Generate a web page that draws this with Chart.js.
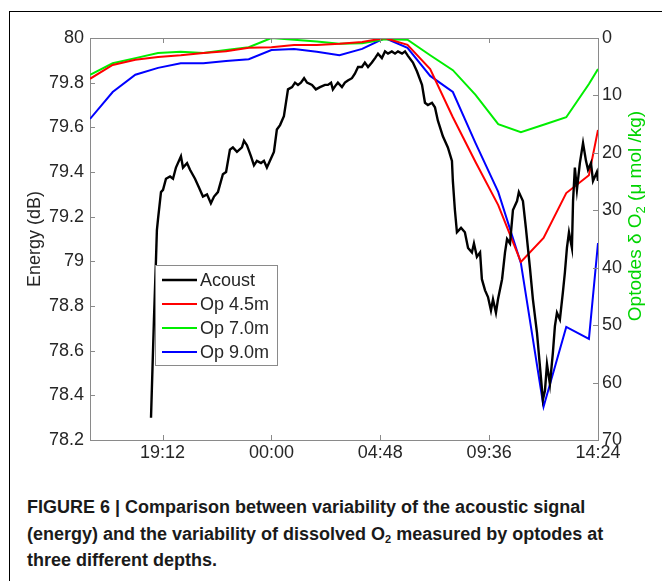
<!DOCTYPE html>
<html>
<head>
<meta charset="utf-8">
<script src="https://cdn.jsdelivr.net/npm/chart.js@4.4.1/dist/chart.umd.min.js"></script>
<style>
    html, body { margin: 0; padding: 0; background: #fff; width: 662px; height: 581px; overflow: hidden; }
    #frame { position: absolute; left: 9px; top: 11px; width: 700px; height: 600px;
             border-left: 1px solid #000; border-top: 1px solid #000; }
    #wrap { position: absolute; left: 0; top: 0; width: 662px; height: 470px; }
    #caption { position: absolute; left: 27px; top: 494px; white-space: nowrap;
               font-family: 'Liberation Sans Narrow', 'Liberation Sans', Arial, sans-serif;
               font-weight: bold; font-size: 18px; line-height: 26.5px; color: #1a1a1a;
               transform-origin: left top; }
    #caption span { display: inline-block; }
    #caption sub { font-size: 11px; vertical-align: -3px; line-height: 0; }
</style>
</head>
<body>
<div id="frame"></div>
<div id="wrap"><canvas id="chart" width="662" height="470"></canvas></div>
<div id="caption">
    <span id="cap1">FIGURE 6 | Comparison between variability of the acoustic signal</span><br>
    <span>(energy) and the variability of dissolved O<sub>2</sub> measured by optodes at</span><br>
    <span>three different depths.</span>
</div>
<script>
// time axis in hours since midnight of day 1 (24 = 00:00 next day)
const xTickHours = [19.2, 24, 28.8, 33.6, 38.4];
const energyTicks = [78.2, 78.4, 78.6, 78.8, 79, 79.2, 79.4, 79.6, 79.8, 80];
const energyTickLabels = ['78.2', '78.4', '78.6', '78.8', '79', '79.2', '79.4', '79.6', '79.8', '80'];
const oxygenTicks = [0, 10, 20, 30, 40, 50, 60, 70];

// acoustic energy (dB)
const acousticHours = [
    18.69, 18.82, 18.91, 18.95, 19.00, 19.13, 19.22, 19.35, 19.53, 19.66,
    19.79, 20.01, 20.10, 20.28, 20.41, 20.63, 20.81, 20.98, 21.16, 21.33,
    21.47, 21.64, 21.86, 22.00, 22.17, 22.30, 22.48, 22.70, 22.79, 22.92,
    23.10, 23.23, 23.36, 23.54, 23.67, 23.80, 23.98, 24.11, 24.24, 24.38,
    24.55, 24.73, 24.91, 25.04, 25.17, 25.30, 25.44, 25.57, 25.79, 25.96,
    26.14, 26.36, 26.49, 26.63, 26.71, 26.85, 26.93, 27.11, 27.24, 27.37,
    27.55, 27.68, 27.82, 27.99, 28.12, 28.26, 28.43, 28.57, 28.70, 28.87,
    29.01, 29.14, 29.31, 29.45, 29.58, 29.76, 29.89, 30.02, 30.24, 30.42,
    30.64, 30.77, 30.90, 31.08, 31.21, 31.34, 31.56, 31.78, 31.96, 32.00,
    32.09, 32.18, 32.36, 32.53, 32.67, 32.84, 32.93, 33.06, 33.20, 33.28,
    33.42, 33.55, 33.68, 33.77, 33.90, 33.99, 34.17, 34.30, 34.39, 34.52,
    34.65, 34.83, 34.91, 35.09, 35.22, 35.40, 35.53, 35.71, 35.84, 35.97,
    36.06, 36.15, 36.28, 36.41, 36.50, 36.59, 36.72, 36.85, 36.94, 37.03,
    37.12, 37.25, 37.30, 37.38, 37.47, 37.60, 37.74, 37.87, 37.96, 38.09,
    38.18, 38.35, 38.40
];
const acousticEnergy = [
    78.30, 78.74, 79.01, 79.14, 79.19, 79.31, 79.32, 79.37, 79.38, 79.37,
    79.42, 79.47, 79.42, 79.44, 79.41, 79.37, 79.33, 79.29, 79.30, 79.26,
    79.29, 79.31, 79.39, 79.40, 79.50, 79.51, 79.49, 79.51, 79.54, 79.52,
    79.47, 79.43, 79.45, 79.44, 79.45, 79.42, 79.46, 79.49, 79.59, 79.61,
    79.65, 79.77, 79.78, 79.80, 79.79, 79.80, 79.82, 79.80, 79.79, 79.77,
    79.78, 79.79, 79.79, 79.80, 79.77, 79.79, 79.80, 79.78, 79.80, 79.81,
    79.82, 79.84, 79.87, 79.87, 79.89, 79.87, 79.89, 79.91, 79.93, 79.91,
    79.94, 79.93, 79.94, 79.93, 79.94, 79.93, 79.94, 79.92, 79.89, 79.85,
    79.79, 79.71, 79.70, 79.71, 79.69, 79.63, 79.56, 79.51, 79.45, 79.36,
    79.23, 79.13, 79.15, 79.13, 79.06, 79.04, 79.08, 79.02, 79.04, 78.92,
    78.87, 78.84, 78.78, 78.83, 78.77, 78.83, 78.92, 79.04, 79.10, 79.08,
    79.23, 79.27, 79.31, 79.27, 79.15, 78.97, 78.83, 78.68, 78.53, 78.38,
    78.42, 78.54, 78.45, 78.59, 78.71, 78.77, 78.74, 78.86, 78.95, 79.06,
    79.13, 79.06, 79.27, 79.42, 79.32, 79.44, 79.53, 79.45, 79.41, 79.44,
    79.36, 79.40, 79.36
];

// optode delta O2 (umol/kg), hourly
const optodeHours = [16, 17, 18, 19, 20, 21, 22, 23, 24, 25, 26, 27, 28, 29, 30, 31, 32, 33, 34, 35, 36, 37, 38, 38.4];
const op45 = [7.1, 4.7, 3.8, 3.3, 3.0, 2.6, 2.3, 1.7, 1.6, 1.2, 1.2, 1.0, 0.7, 0.0, 1.2, 5.4, 13.8, 21.6, 29.1, 39.0, 34.8, 27.0, 23.9, 16.0];
const op70 = [6.4, 4.4, 3.5, 2.6, 2.4, 2.6, 2.1, 1.6, 0.0, 0.3, 0.6, 1.0, 0.9, 0.2, 0.3, 3.0, 5.6, 9.9, 15.0, 16.4, 15.1, 13.8, 8.0, 5.4];
const op90 = [14.1, 9.4, 6.4, 5.2, 4.4, 4.4, 4.0, 3.7, 2.1, 1.9, 2.4, 3.0, 1.9, 0.0, 1.7, 6.6, 9.4, 18.3, 26.8, 39.2, 64.2, 50.3, 52.4, 35.7];

const axisGray = '#8a8a8a';
const labelColor = '#262626';
const titleGreen = '#00d400';
const fontFamily = "'Liberation Sans', Arial, sans-serif";

function toPoints(xs, ys) {
    return xs.map((x, i) => ({ x: x, y: ys[i] }));
}

function hourLabel(h) {
    const mins = Math.round(h * 60) % (24 * 60);
    const hh = Math.floor(mins / 60);
    const mm = mins % 60;
    return String(hh).padStart(2, '0') + ':' + String(mm).padStart(2, '0');
}

// MATLAB-like box: top edge plus inward tick marks on every side
const boxPlugin = {
    id: 'matlabBox',
    afterDraw(chart) {
        const { ctx, chartArea: a, scales } = chart;
        const len = 5;
        ctx.save();
        ctx.strokeStyle = axisGray;
        ctx.lineWidth = 1;
        ctx.beginPath();
        ctx.moveTo(a.left, Math.round(a.top) + 0.5);
        ctx.lineTo(a.right, Math.round(a.top) + 0.5);
        scales.x.ticks.forEach(t => {
            const px = Math.round(scales.x.getPixelForValue(t.value)) + 0.5;
            ctx.moveTo(px, a.bottom); ctx.lineTo(px, a.bottom - len);
            ctx.moveTo(px, a.top); ctx.lineTo(px, a.top + len);
        });
        scales.y.ticks.forEach(t => {
            const py = Math.round(scales.y.getPixelForValue(t.value)) + 0.5;
            ctx.moveTo(a.left, py); ctx.lineTo(a.left + len, py);
        });
        scales.y1.ticks.forEach(t => {
            const py = Math.round(scales.y1.getPixelForValue(t.value)) + 0.5;
            ctx.moveTo(a.right, py); ctx.lineTo(a.right - len, py);
        });
        ctx.stroke();
        ctx.restore();
    }
};

// axis titles (right one reads bottom to top, as in the figure)
const titlePlugin = {
    id: 'axisTitles',
    afterDraw(chart) {
        const { ctx, chartArea: a } = chart;
        ctx.save();
        ctx.font = '18px ' + fontFamily;
        ctx.textAlign = 'center';
        ctx.textBaseline = 'middle';
        ctx.fillStyle = labelColor;
        ctx.translate(a.left - 55, (a.top + a.bottom) / 2);
        ctx.rotate(-Math.PI / 2);
        ctx.fillText('Energy (dB)', 0, 0);
        ctx.restore();

        ctx.save();
        ctx.fillStyle = titleGreen;
        const partA = 'Optodes \u03b4 O';
        const partB = '2';
        const partC = ' (\u03bc mol /kg)';
        ctx.font = '19px ' + fontFamily;
        const wA = ctx.measureText(partA).width;
        const wC = ctx.measureText(partC).width;
        ctx.font = '13px ' + fontFamily;
        const wB = ctx.measureText(partB).width;
        const total = wA + wB + wC;
        ctx.translate(a.right + 38, a.top + 178);
        ctx.rotate(-Math.PI / 2);
        ctx.textBaseline = 'middle';
        ctx.textAlign = 'left';
        let x = -total / 2;
        ctx.font = '19px ' + fontFamily;
        ctx.fillText(partA, x, 0);
        x += wA;
        ctx.font = '13px ' + fontFamily;
        ctx.fillText(partB, x, 5);
        x += wB;
        ctx.font = '19px ' + fontFamily;
        ctx.fillText(partC, x, 0);
        ctx.restore();
    }
};

// legend box inside the axes
const legendPlugin = {
    id: 'insideLegend',
    afterDraw(chart) {
        const { ctx, chartArea: a } = chart;
        const sets = chart.data.datasets;
        const boxX = a.left + 65, boxY = a.top + 227;
        const rowH = 24, boxW = 122, boxH = 100;
        ctx.save();
        ctx.fillStyle = '#fff';
        ctx.fillRect(boxX, boxY, boxW, boxH);
        ctx.strokeStyle = axisGray;
        ctx.lineWidth = 1;
        ctx.strokeRect(boxX + 0.5, boxY + 0.5, boxW, boxH);
        ctx.font = '18px ' + fontFamily;
        ctx.textBaseline = 'middle';
        ctx.fillStyle = labelColor;
        sets.forEach((ds, i) => {
            const cy = boxY + 15 + i * rowH;
            ctx.strokeStyle = ds.borderColor;
            ctx.lineWidth = ds.borderWidth;
            ctx.beginPath();
            ctx.moveTo(boxX + 7, cy);
            ctx.lineTo(boxX + 42, cy);
            ctx.stroke();
            ctx.fillText(ds.label, boxX + 45, cy + 1);
        });
        ctx.restore();
    }
};

Chart.defaults.font.family = fontFamily;
Chart.defaults.font.size = 18;
Chart.defaults.color = labelColor;

const chart = new Chart(document.getElementById('chart'), {
    type: 'line',
    data: {
        datasets: [
            { label: 'Acoust', data: toPoints(acousticHours, acousticEnergy), yAxisID: 'y',
              borderColor: '#000000', borderWidth: 2.4 },
            { label: 'Op 4.5m', data: toPoints(optodeHours, op45), yAxisID: 'y1',
              borderColor: '#ff0000', borderWidth: 2 },
            { label: 'Op 7.0m', data: toPoints(optodeHours, op70), yAxisID: 'y1',
              borderColor: '#00ee00', borderWidth: 2 },
            { label: 'Op 9.0m', data: toPoints(optodeHours, op90), yAxisID: 'y1',
              borderColor: '#0000ff', borderWidth: 2 }
        ]
    },
    options: {
        responsive: false,
        animation: false,
        devicePixelRatio: 1,
        layout: { padding: { top: 38, left: 0, right: 0, bottom: 0 } },
        elements: { point: { radius: 0 }, line: { tension: 0 } },
        plugins: { legend: { display: false }, tooltip: { enabled: false } },
        scales: {
            x: {
                type: 'linear', min: 16, max: 38.4,
                grid: { display: false, drawTicks: false },
                border: { display: true, color: axisGray },
                afterBuildTicks: s => { s.ticks = xTickHours.map(v => ({ value: v })); },
                afterFit: s => { s.height = 30; },
                ticks: { padding: 2, maxRotation: 0, autoSkip: false, callback: v => hourLabel(v) }
            },
            y: {
                position: 'left', min: 78.2, max: 80,
                grid: { display: false, drawTicks: false },
                border: { display: true, color: axisGray },
                afterBuildTicks: s => { s.ticks = energyTicks.map(v => ({ value: v })); },
                afterFit: s => { s.width = 90; },
                ticks: { padding: 6, autoSkip: false,
                         callback: (v, i) => energyTickLabels[i] }
            },
            y1: {
                position: 'right', min: 0, max: 70, reverse: true,
                grid: { display: false, drawTicks: false },
                border: { display: true, color: axisGray },
                afterBuildTicks: s => { s.ticks = oxygenTicks.map(v => ({ value: v })); },
                afterFit: s => { s.width = 64; },
                ticks: { padding: 4, autoSkip: false }
            }
        }
    },
    plugins: [boxPlugin, titlePlugin, legendPlugin]
});

// squeeze the caption so its first line spans the same width as the figure's
function fitCaption() {
    const cap = document.getElementById('caption');
    const w = document.getElementById('cap1').getBoundingClientRect().width;
    cap.style.transform = 'scaleX(' + (573 / w) + ')';
}
fitCaption();
if (document.fonts && document.fonts.ready) document.fonts.ready.then(fitCaption);
</script>
</body>
</html>
